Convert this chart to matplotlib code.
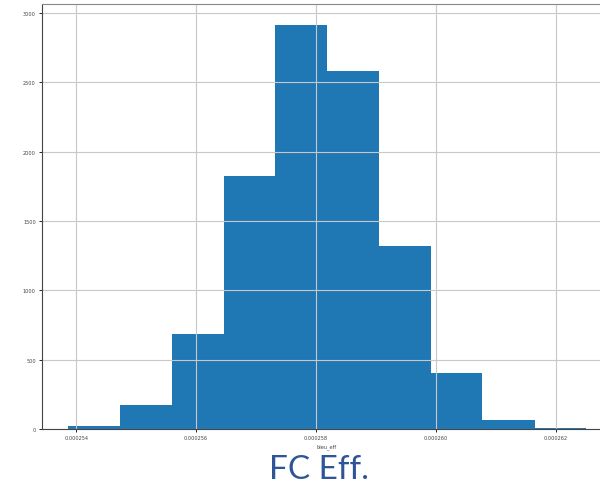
import matplotlib
matplotlib.use("Agg")
import matplotlib.pyplot as plt
from matplotlib.ticker import FixedLocator, FormatStrFormatter

# histogram of bleu_eff (bin edges and counts)
bin_edges = [0.00025386, 0.00025473, 0.00025559, 0.00025646, 0.00025732,
             0.00025819, 0.00025905, 0.00025992, 0.00026078, 0.00026165,
             0.00026251]
counts = [25, 173, 685, 1825, 2915, 2579, 1323, 405, 63, 7]
x_ticks = [0.000254, 0.000256, 0.000258, 0.000260, 0.000262]
y_ticks = [0, 500, 1000, 1500, 2000, 2500, 3000]

fig = plt.figure(figsize=(6, 4.85), dpi=100)
# axes runs a bit past the right edge, like the cropped screenshot
ax = fig.add_axes([0.07, 0.1134, 0.95, 0.8753])

ax.hist(bin_edges[:-1], bins=bin_edges, weights=counts, color="#1f77b4")
ax.grid(True, color="#c8c8c8", linewidth=0.8)

ax.xaxis.set_major_locator(FixedLocator(x_ticks))
ax.xaxis.set_major_formatter(FormatStrFormatter("%.6f"))
ax.set_yticks(y_ticks)
ax.tick_params(labelsize=3.6, labelcolor="#444444", length=2.5, width=0.6,
               pad=2)
ax.set_xlabel("bleu_eff", fontsize=3.6, color="#444444", labelpad=2)

for side in ["left", "bottom"]:
    ax.spines[side].set_color("#444444")
ax.spines["top"].set_color("#888888")

fig.text(0.532, 0.013, "FC Eff.", fontsize=24, color="#2F5597",
         family="Lato", ha="center", va="baseline")

fig.savefig("out.png", dpi=100)
